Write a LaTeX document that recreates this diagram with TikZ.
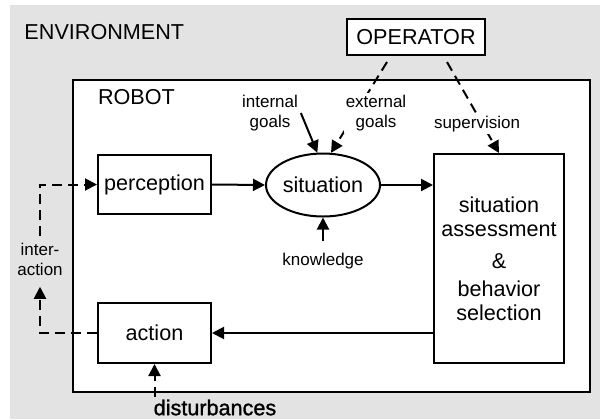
\documentclass[tikz,border=0pt]{standalone}
\usepackage{fontspec}
\setmainfont{Liberation Sans}
\newfontfamily\heavyfont[FakeBold=1.2]{Liberation Sans}
\usetikzlibrary{shapes.geometric,arrows.meta}

\begin{document}
\begin{tikzpicture}[x=0.5pt, y=-0.5pt, line width=1pt, line join=miter,
  >={Triangle[length=6pt,width=6pt]},
  bigtext/.style={font=\fontsize{10.8}{12}\selectfont},
  smalltext/.style={font=\fontsize{8.5}{10}\selectfont, align=center, inner sep=1pt},
  block/.style={draw, fill=white, bigtext, inner sep=0pt},
  dashline/.style={dash pattern=on 5pt off 3pt}]

% Colors
\definecolor{envgray}{RGB}{227,227,227}

\useasboundingbox (0,0) rectangle (600,419);

% Environment
\fill[envgray] (10,5) rectangle (600,419);
\node[bigtext, anchor=base west, inner sep=0pt] (envlabel) at (23.5,39) {ENVIRONMENT};

% Robot
\node[draw, fill=white, minimum width=258.5pt, minimum height=156pt, inner sep=0pt] (robot) at (331.5,236) {};
\node[bigtext, anchor=base west, inner sep=0pt] (robotlabel) at (97,104) {ROBOT};

% Blocks
\node[block, minimum width=69pt, minimum height=18pt] (operator) at (416,37) {OPERATOR};
\node[block, minimum width=56.5pt, minimum height=29.5pt] (perception) at (154.5,184.5) {perception};
\node[block, ellipse, minimum width=57pt, minimum height=31.5pt] (situation) at (323,185) {situation};
\node[block, align=center, minimum width=65pt, minimum height=104.5pt] (assessment) at (499,258.5)
  {situation\\assessment\\[4pt]\&\\[2pt]behavior\\selection};
\node[block, minimum width=56.5pt, minimum height=30pt] (action) at (154.5,333) {action};

% Operator influence
\coordinate (opL) at (387,62);
\coordinate (opR) at (447,62);
\draw[dashline, ->] (opL) -- (situation.76);
\draw[dashline, ->] (opR) -- (assessment.north);
\node[smalltext, fill=white] (extgoals) at (376,113) {external\\goals};
\node[smalltext, fill=white] (supervision) at (477,124) {supervision};

% Goals and knowledge
\node[smalltext] (intgoals) at (270,113) {internal\\goals};
\draw[->] (intgoals.east) -- (situation.100);
\node[smalltext] (knowledge) at (323,261.5) {knowledge};
\draw[->, shorten <=5pt] (knowledge.north) -- (situation.south);

% Main flow
\draw[->] (perception.east) -- (situation.west);
\draw[->] (situation.east) -- (situation.east -| assessment.west);
\draw[->] (assessment.west |- action.east) -- (action.east);

% Interaction loop
\node[smalltext] (interaction) at (40,259.5) {inter-\\action};
\draw[dashline, ->] (action.west) -| ([yshift=-4pt]interaction.south);
\draw[dashline, ->] ([yshift=2pt]interaction.north) |- (perception.west);

% Disturbances
\node[bigtext, inner sep=1pt] (disturb) at (215,407.5) {\heavyfont disturbances};
\draw[dashline, ->] (disturb.north -| action.south) -- (action.south);

\end{tikzpicture}
\end{document}
